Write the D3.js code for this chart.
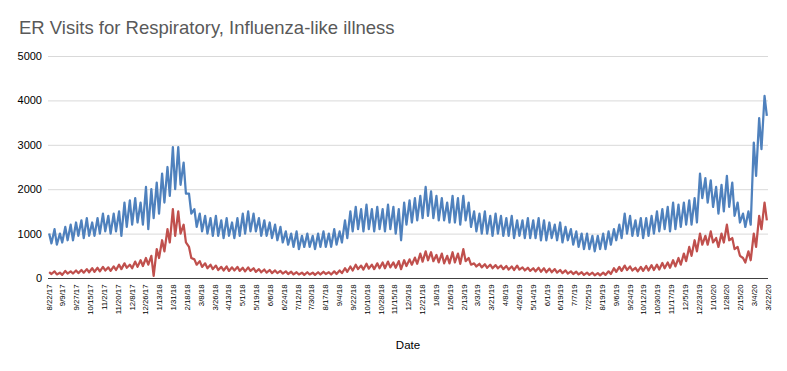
<!DOCTYPE html>
<html>
<head>
<meta charset="utf-8">
<script src="https://cdn.jsdelivr.net/npm/d3@7"></script>
<style>
  body { margin: 0; background: #fff; }
  text { font-family: "Liberation Sans", Arial, sans-serif; }
</style>
</head>
<body>
<div id="chart"></div>
<script>
// x axis labels, one every 18 days (category axis)
var tickLabels = [
  "8/22/17", "9/9/17", "9/27/17", "10/15/17", "11/2/17", "11/20/17", "12/8/17", "12/26/17",
  "1/13/18", "1/31/18", "2/18/18", "3/8/18", "3/26/18", "4/13/18", "5/1/18", "5/19/18",
  "6/6/18", "6/24/18", "7/12/18", "7/30/18", "8/17/18", "9/4/18", "9/22/18", "10/10/18",
  "10/28/18", "11/15/18", "12/3/18", "12/21/18", "1/8/19", "1/26/19", "2/13/19", "3/3/19",
  "3/21/19", "4/8/19", "4/26/19", "5/14/19", "6/1/19", "6/19/19", "7/7/19", "7/25/19",
  "8/19/19", "9/6/19", "9/24/19", "10/12/19", "10/30/19", "11/17/19", "12/5/19", "12/23/19",
  "1/10/20", "1/28/20", "2/15/20", "3/4/20", "3/22/20"
];
var labelStep = 18;
var nDays = 937;
var yTicks = [0, 1000, 2000, 3000, 4000, 5000];

// weekly peak (weekday) and trough (weekend) readings, week by week
var respHigh = [
  1000, 1100, 1000, 1150, 1200, 1250, 1300, 1350, 1250, 1350,
  1450, 1400, 1450, 1500, 1700, 1750, 1800, 1700, 2050, 2000,
  2150, 2350, 2500, 2950, 2950, 2600, 1900, 1550, 1450, 1400,
  1350, 1400, 1300, 1350, 1250, 1350, 1450, 1500, 1450, 1350,
  1300, 1250, 1200, 1150, 1050, 1000, 1050, 950, 1000, 950,
  1000, 1050, 1000, 1100, 1050, 1300, 1500, 1600, 1550, 1650,
  1550, 1600, 1550, 1650, 1600, 1550, 1700, 1750, 1800, 1850,
  2050, 1950, 1850, 1800, 1700, 1850, 1800, 1850, 1700, 1500,
  1450, 1500, 1400, 1450, 1400, 1350, 1400, 1300, 1300, 1350,
  1300, 1350, 1300, 1250, 1200, 1250, 1150, 1100, 1050, 1000,
  1000, 950, 950, 1000, 1050, 1100, 1200, 1450, 1400, 1300,
  1350, 1350, 1400, 1500, 1550, 1600, 1700, 1650, 1700, 1750,
  1800, 2350, 2250, 2200, 2050, 2100, 2300, 2150, 1700, 1450,
  1500, 3050, 3600, 4100
];
var respLow = [
  780, 750, 800, 850, 850, 950, 900, 950, 950, 1000,
  1050, 1000, 1050, 950, 1150, 1200, 1250, 1200, 1100, 1350,
  1450, 1700, 1850, 2000, 2100, 1900, 1450, 1150, 1050, 1000,
  950, 950, 900, 950, 900, 950, 1000, 1050, 1050, 950,
  950, 900, 850, 800, 750, 700, 650, 700, 700, 650,
  700, 700, 700, 750, 800, 900, 1050, 1100, 1050, 1100,
  1050, 1100, 1050, 1100, 1000, 850, 1200, 1250, 1300, 1350,
  1400, 1350, 1300, 1300, 1250, 1250, 1200, 1300, 1150, 1050,
  1000, 1000, 950, 1000, 950, 950, 900, 950, 900, 900,
  900, 850, 850, 900, 850, 800, 850, 750, 700, 650,
  650, 600, 650, 650, 750, 850, 900, 1000, 950, 950,
  900, 950, 1000, 1050, 1100, 1050, 1100, 1150, 1200, 1200,
  1250, 1800, 1700, 1600, 1450, 1500, 1600, 1400, 1250, 1150,
  1200, 2300, 2900, 3650
];
var fluHigh = [
  130, 150, 120, 160, 150, 170, 180, 200, 220, 230,
  250, 240, 260, 300, 330, 300, 370, 400, 450, 500,
  650, 850, 1100, 1550, 1500, 1200, 700, 420, 380, 330,
  300, 280, 250, 260, 240, 250, 230, 240, 220, 200,
  190, 180, 170, 160, 150, 140, 130, 120, 130, 120,
  130, 140, 130, 150, 170, 220, 260, 300, 280, 320,
  300, 330, 350, 370, 350, 380, 400, 420, 460, 550,
  600, 580, 520, 550, 500, 580, 550, 650, 450, 330,
  320, 310, 300, 290, 280, 270, 260, 280, 240, 230,
  220, 230, 220, 210, 200, 180, 170, 150, 140, 130,
  120, 120, 110, 120, 150, 220, 250, 280, 260, 230,
  250, 270, 290, 300, 340, 350, 400, 450, 550, 700,
  850, 1000, 950, 1050, 900, 1000, 1200, 900, 700, 450,
  600, 1000, 1400, 1700
];
var fluLow = [
  90, 80, 70, 100, 100, 110, 120, 130, 140, 150,
  170, 160, 180, 200, 230, 220, 250, 270, 300, 50,
  450, 600, 800, 950, 1000, 800, 450, 300, 250, 220,
  200, 180, 170, 160, 170, 160, 150, 160, 140, 130,
  120, 110, 110, 100, 90, 80, 80, 70, 80, 70,
  80, 90, 80, 90, 110, 140, 170, 200, 190, 210,
  200, 220, 220, 240, 230, 200, 270, 300, 320, 370,
  400, 380, 350, 330, 330, 350, 320, 380, 300, 260,
  240, 230, 220, 220, 200, 190, 180, 190, 170, 160,
  150, 140, 130, 130, 120, 110, 100, 90, 80, 70,
  70, 60, 60, 70, 90, 140, 160, 180, 170, 150,
  160, 170, 180, 190, 220, 230, 260, 300, 380, 500,
  600, 750, 750, 800, 700, 800, 850, 650, 500, 350,
  400, 700, 1100, 1300
];

var series = [
  {name: "Respiratory", high: respHigh, low: respLow, color: "#4F81BD"},
  {name: "Influenza-like illness", high: fluHigh, low: fluLow, color: "#C0504D"}
];

var W = 787, H = 371;
var plot = {left: 48, right: 768, top: 56, bottom: 278};

var svg = d3.select("#chart")
  .append("svg")
  .attr("width", W)
  .attr("height", H);

svg.append("rect").attr("width", W).attr("height", H).attr("fill", "#fff");

// title
svg.append("text")
  .attr("x", 19)
  .attr("y", 34)
  .attr("font-size", 18.5)
  .attr("fill", "#595959")
  .text("ER Visits for Respiratory, Influenza-like illness");

var dayW = (plot.right - plot.left) / nDays;
var x = d3.scaleLinear()
  .domain([0, nDays - 1])
  .range([plot.left + dayW / 2, plot.right - dayW / 2]);

var y = d3.scaleLinear()
  .domain([0, 5000])
  .range([plot.bottom, plot.top]);

// gridlines
svg.append("g")
  .selectAll("line")
  .data(yTicks.slice(1))
  .enter()
  .append("line")
  .attr("x1", plot.left)
  .attr("x2", plot.right)
  .attr("y1", function(d) { return y(d) + 0.5; })
  .attr("y2", function(d) { return y(d) + 0.5; })
  .attr("stroke", "#d9d9d9")
  .attr("stroke-width", 1);

// y axis labels
var yAxis = svg.append("g")
  .attr("transform", "translate(" + plot.left + ",0)")
  .call(d3.axisLeft(y).tickValues(yTicks).tickFormat(d3.format("d")).tickSize(0).tickPadding(6));
yAxis.select(".domain").remove();
yAxis.selectAll("text")
  .attr("font-size", 11)
  .attr("font-family", "Liberation Sans, Arial, sans-serif")
  .attr("fill", "#000");

// lines
var line = d3.line()
  .x(function(d) { return x(d.day); })
  .y(function(d) { return y(d.value); });

series.forEach(function(s) {
  var pts = [];
  s.high.forEach(function(h, i) {
    pts.push({day: 7 * i + 1, value: h});
    pts.push({day: 7 * i + 4, value: s.low[i]});
  });
  svg.append("path")
    .datum(pts)
    .attr("fill", "none")
    .attr("stroke", s.color)
    .attr("stroke-width", 2.25)
    .attr("stroke-linejoin", "round")
    .attr("d", line);
});

// x axis
var xTickVals = tickLabels.map(function(d, i) { return i * labelStep; });
var xAxis = svg.append("g")
  .attr("transform", "translate(0," + (plot.bottom + 0.5) + ")")
  .call(d3.axisBottom(x)
    .tickValues(xTickVals)
    .tickFormat(function(d, i) { return tickLabels[i]; })
    .tickSize(0)
    .tickPadding(6));
xAxis.select(".domain")
  .attr("d", "M" + plot.left + ",0H" + plot.right)
  .attr("stroke", "#404040");
xAxis.selectAll("text")
  .attr("font-size", 7.8)
  .attr("font-family", "Liberation Sans, Arial, sans-serif")
  .attr("fill", "#000")
  .attr("text-anchor", "end")
  .attr("transform", "rotate(-90)")
  .attr("x", -6)
  .attr("y", 0)
  .attr("dy", "0.35em");

// axis title
svg.append("text")
  .attr("x", 408)
  .attr("y", 349)
  .attr("text-anchor", "middle")
  .attr("font-size", 11.5)
  .attr("fill", "#000")
  .text("Date");
</script>
</body>
</html>
